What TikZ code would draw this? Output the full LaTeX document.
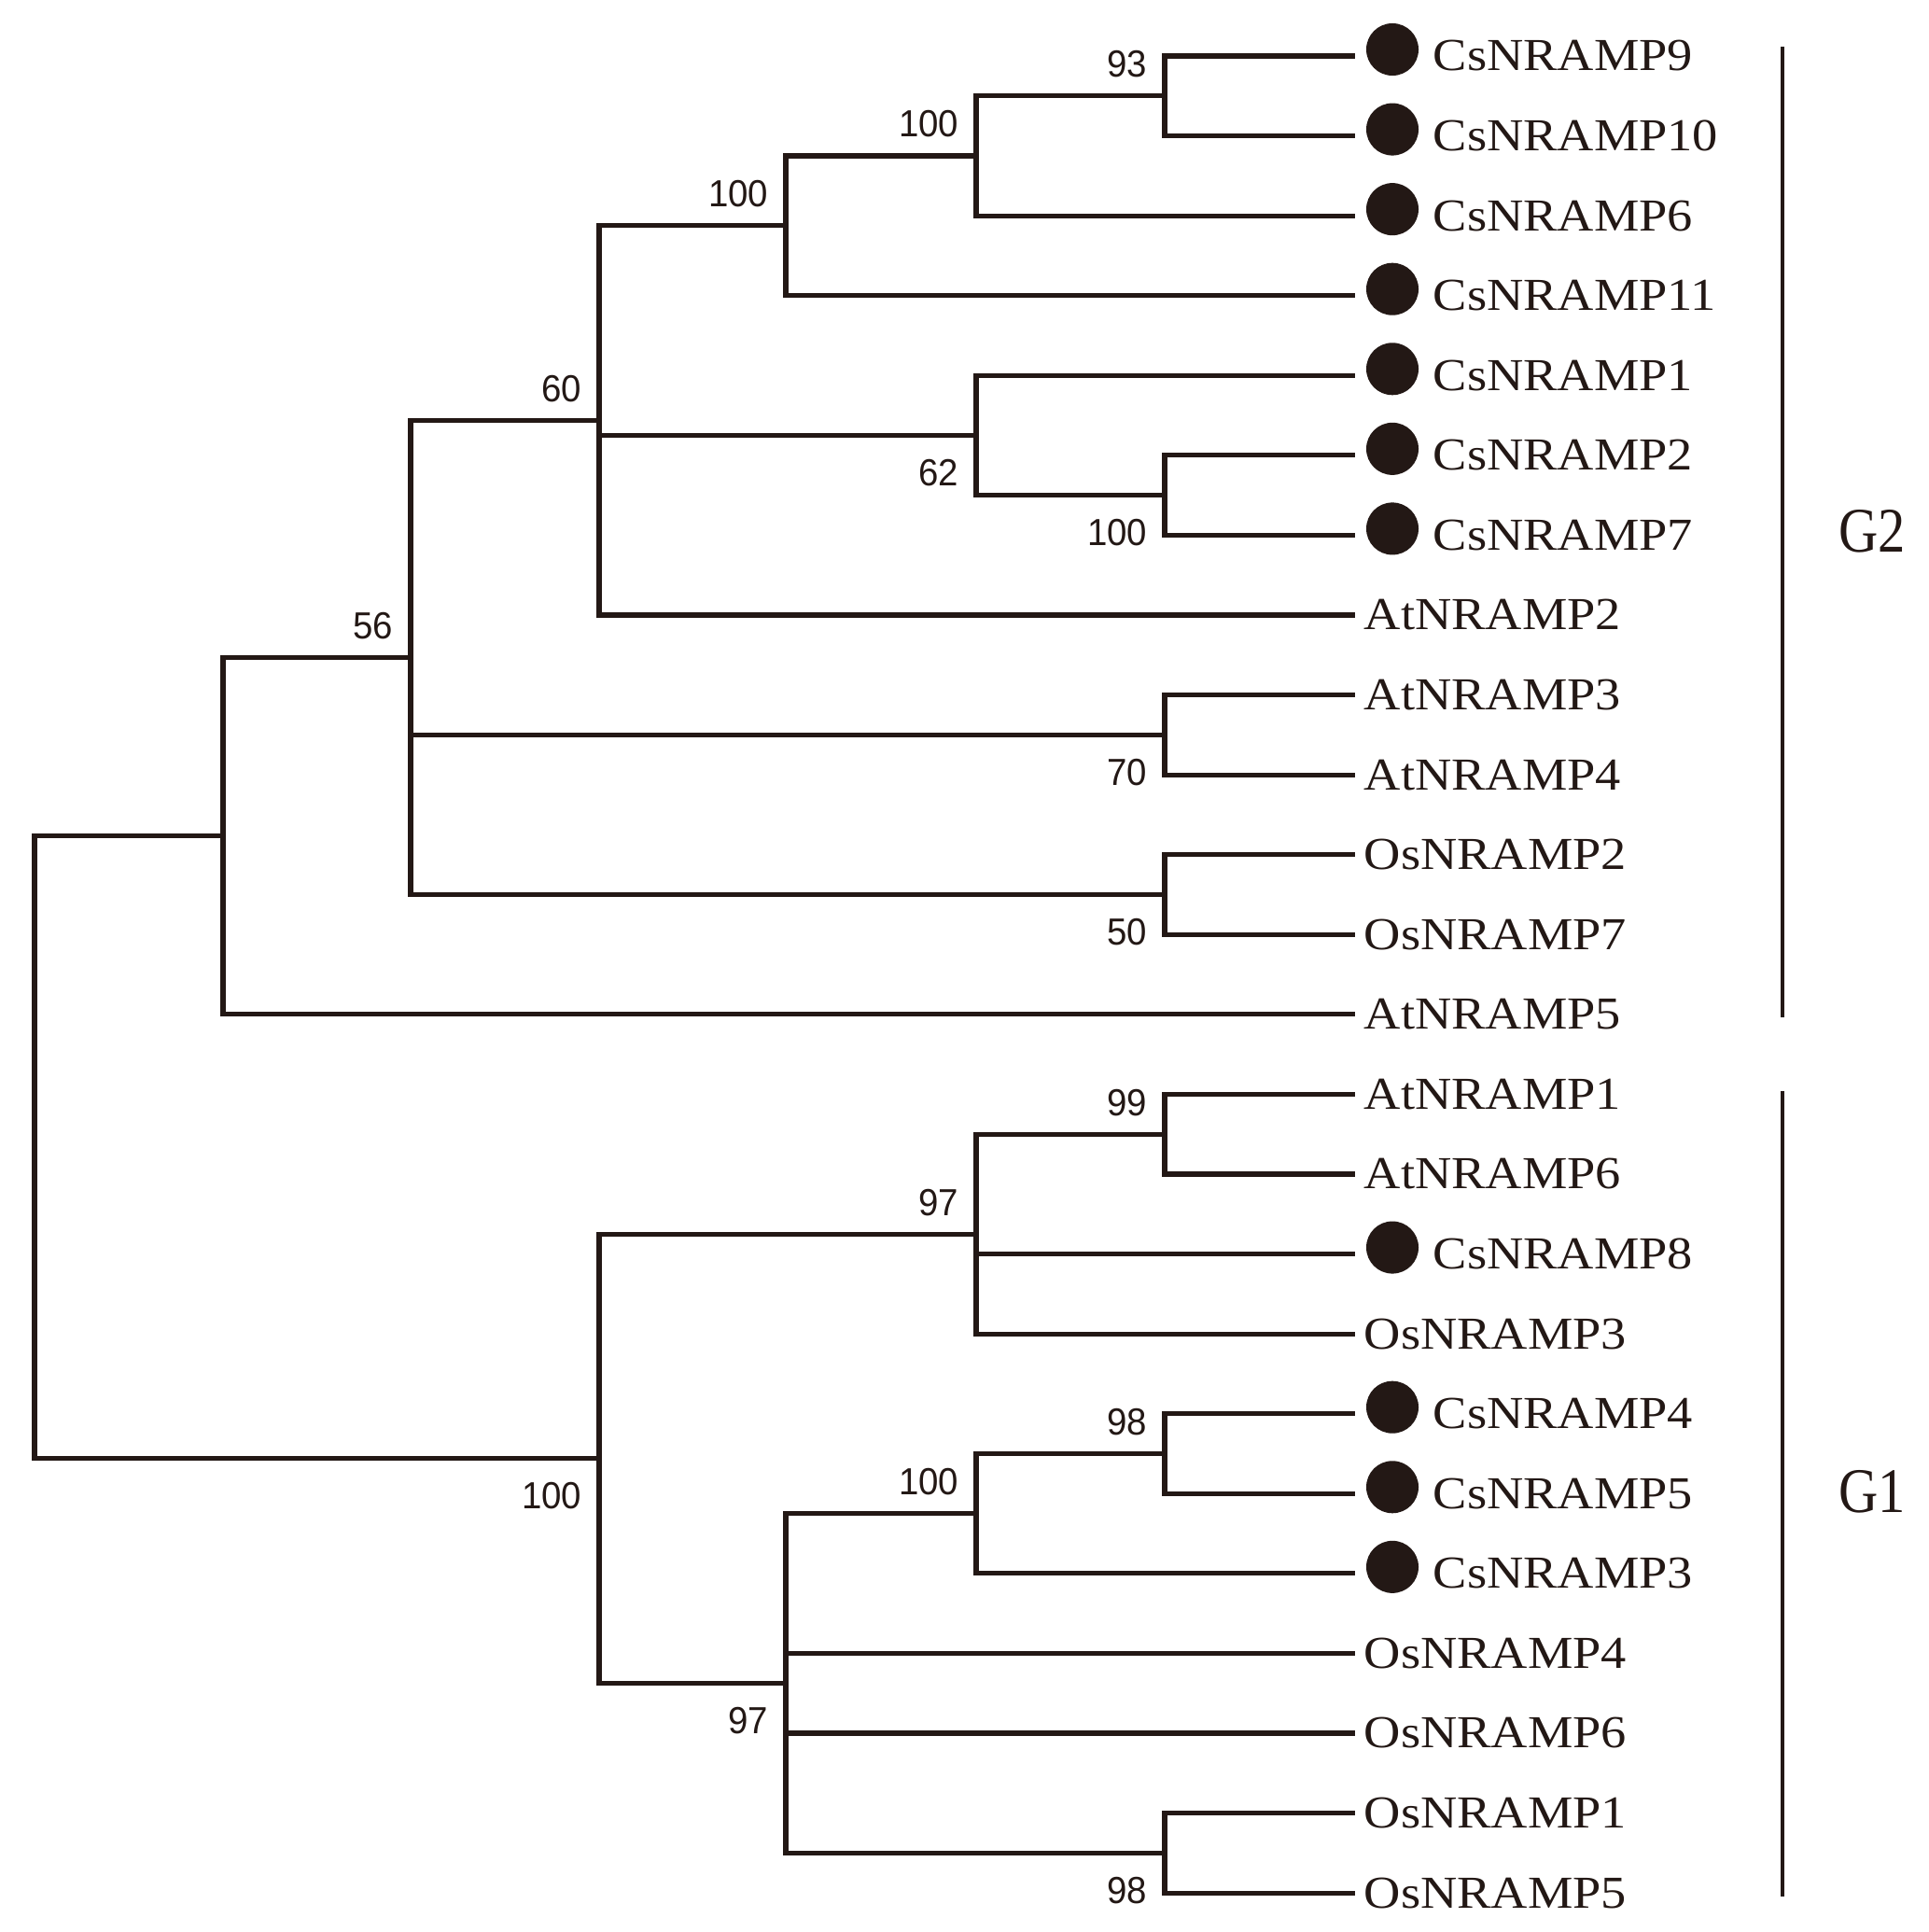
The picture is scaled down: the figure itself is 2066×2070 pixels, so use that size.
\documentclass[tikz,border=0pt]{standalone}
\usepackage{fontspec}
\usetikzlibrary{calc}
\newfontfamily\leaffont[FakeStretch=1.11]{Liberation Serif}
\newfontfamily\grpfont[FakeStretch=0.86]{Liberation Serif}
\newfontfamily\bsfont[FakeStretch=0.95]{Liberation Sans}
\definecolor{ink}{HTML}{231815}
\tikzset{
  branch/.style={draw=ink, line width=1.45pt, line join=miter, line cap=rect},
  groupbar/.style={draw=ink, line width=1.2pt},
  leaflabel/.style={anchor=base west, inner sep=0pt, text=ink, font=\leaffont\fontsize{13.94pt}{16pt}\selectfont},
  grplabel/.style={anchor=base west, inner sep=0pt, text=ink, font=\grpfont\fontsize{19.35pt}{22pt}\selectfont},
  bsabove/.style={anchor=south east, inner sep=0pt, text=ink, font=\bsfont\fontsize{11.5pt}{13pt}\selectfont},
  bsbelow/.style={anchor=north east, inner sep=0pt, text=ink, font=\bsfont\fontsize{11.5pt}{13pt}\selectfont},
  dot/.style={circle, fill=ink, inner sep=0pt, minimum size=0.56cm},
}
\begin{document}
\begin{tikzpicture}[x=0.01cm, y=-0.01cm]
\useasboundingbox[fill=white] (0,0) rectangle (2066,2070);
% leaf ends
\foreach \i in {0,...,23} {
  \coordinate (e\i) at (1449,{60+85.57*\i});
}
% internal nodes
\coordinate (J) at (1248,102.8);
\coordinate (I) at (1046,167.0);
\coordinate (G) at (842,241.8);
\coordinate (K) at (1248,530.6);
\coordinate (H) at (1046,466.5);
\coordinate (D) at (642,450.4);
\coordinate (E) at (1248,787.3);
\coordinate (F) at (1248,958.5);
\coordinate (C) at (440,704.5);
\coordinate (A) at (239,895.7);
\coordinate (N) at (1248,1215.2);
\coordinate (L) at (1046,1322.2);
\coordinate (Q) at (1248,1557.5);
\coordinate (O) at (1046,1621.7);
\coordinate (P) at (1248,1985.3);
\coordinate (M) at (842,1803.5);
\coordinate (B) at (642,1562.8);
\coordinate (R) at (37,1229.2);

% branches
\draw[branch] (e0) -| (J) |- (e1);
\draw[branch] (J) -| (I) |- (e2);
\draw[branch] (I) -| (G) |- (e3);
\draw[branch] (e5) -| (K) |- (e6);
\draw[branch] (e4) -| (H) |- (K);
\draw[branch] (G) -| (D) |- (e7);
\draw[branch] (D |- H) -- (H);
\draw[branch] (e8) -| (E) |- (e9);
\draw[branch] (e10) -| (F) |- (e11);
\draw[branch] (D) -| (C) |- (F);
\draw[branch] (C |- E) -- (E);
\draw[branch] (C) -| (A) |- (e12);
\draw[branch] (e13) -| (N) |- (e14);
\draw[branch] (N) -| (L) |- (e16);
\draw[branch] (L |- e15) -- (e15);
\draw[branch] (e17) -| (Q) |- (e18);
\draw[branch] (Q) -| (O) |- (e19);
\draw[branch] (e22) -| (P) |- (e23);
\draw[branch] (O) -| (M) |- (P);
\draw[branch] (M |- e20) -- (e20);
\draw[branch] (M |- e21) -- (e21);
\draw[branch] (L) -| (B) |- (M);
\draw[branch] (A) -| (R) |- (B);

% bootstrap values
\node[bsabove] (bJ) at ($(J)+(-18,-19)$) {93};
\node[bsabove] (bI) at ($(I)+(-18,-19)$) {100};
\node[bsabove] (bG) at ($(G)+(-18,-19)$) {100};
\node[bsabove] (bD) at ($(D)+(-18,-19)$) {60};
\node[bsabove] (bC) at ($(C)+(-18,-19)$) {56};
\node[bsbelow] (bH) at ($(H)+(-18,25)$) {62};
\node[bsbelow] (bK) at ($(K)+(-18,25)$) {100};
\node[bsbelow] (bE) at ($(E)+(-18,25)$) {70};
\node[bsbelow] (bF) at ($(F)+(-18,25)$) {50};
\node[bsabove] (bN) at ($(N)+(-18,-19)$) {99};
\node[bsabove] (bL) at ($(L)+(-18,-19)$) {97};
\node[bsabove] (bQ) at ($(Q)+(-18,-19)$) {98};
\node[bsabove] (bO) at ($(O)+(-18,-19)$) {100};
\node[bsbelow] (bM) at ($(M)+(-18,25)$) {97};
\node[bsbelow] (bB) at ($(B)+(-18,25)$) {100};
\node[bsbelow] (bP) at ($(P)+(-18,25)$) {98};

% leaf labels with dots (Cs)
\foreach \i/\name in {0/CsNRAMP9,1/CsNRAMP10,2/CsNRAMP6,3/CsNRAMP11,4/CsNRAMP1,5/CsNRAMP2,6/CsNRAMP7,15/CsNRAMP8,17/CsNRAMP4,18/CsNRAMP5,19/CsNRAMP3} {
  \node[dot] (d\i) at ($(e\i)+(43,-7)$) {};
  \node[leaflabel] (t\i) at ($(e\i)+(86,16)$) {\name};
}
% leaf labels without dots
\foreach \i/\name in {7/AtNRAMP2,8/AtNRAMP3,9/AtNRAMP4,10/OsNRAMP2,11/OsNRAMP7,12/AtNRAMP5,13/AtNRAMP1,14/AtNRAMP6,16/OsNRAMP3,20/OsNRAMP4,21/OsNRAMP6,22/OsNRAMP1,23/OsNRAMP5} {
  \node[leaflabel] (t\i) at ($(e\i)+(12,16)$) {\name};
}

% group bars
\coordinate (g2top) at (1910,50);
\coordinate (g2bot) at (1910,1090);
\coordinate (g1top) at (1910,1169);
\coordinate (g1bot) at (1910,2032);
\draw[groupbar] (g2top) -- (g2bot);
\draw[groupbar] (g1top) -- (g1bot);
\node[grplabel] (G2) at (1970,591) {G2};
\node[grplabel] (G1) at (1970,1620) {G1};
\end{tikzpicture}
\end{document}
